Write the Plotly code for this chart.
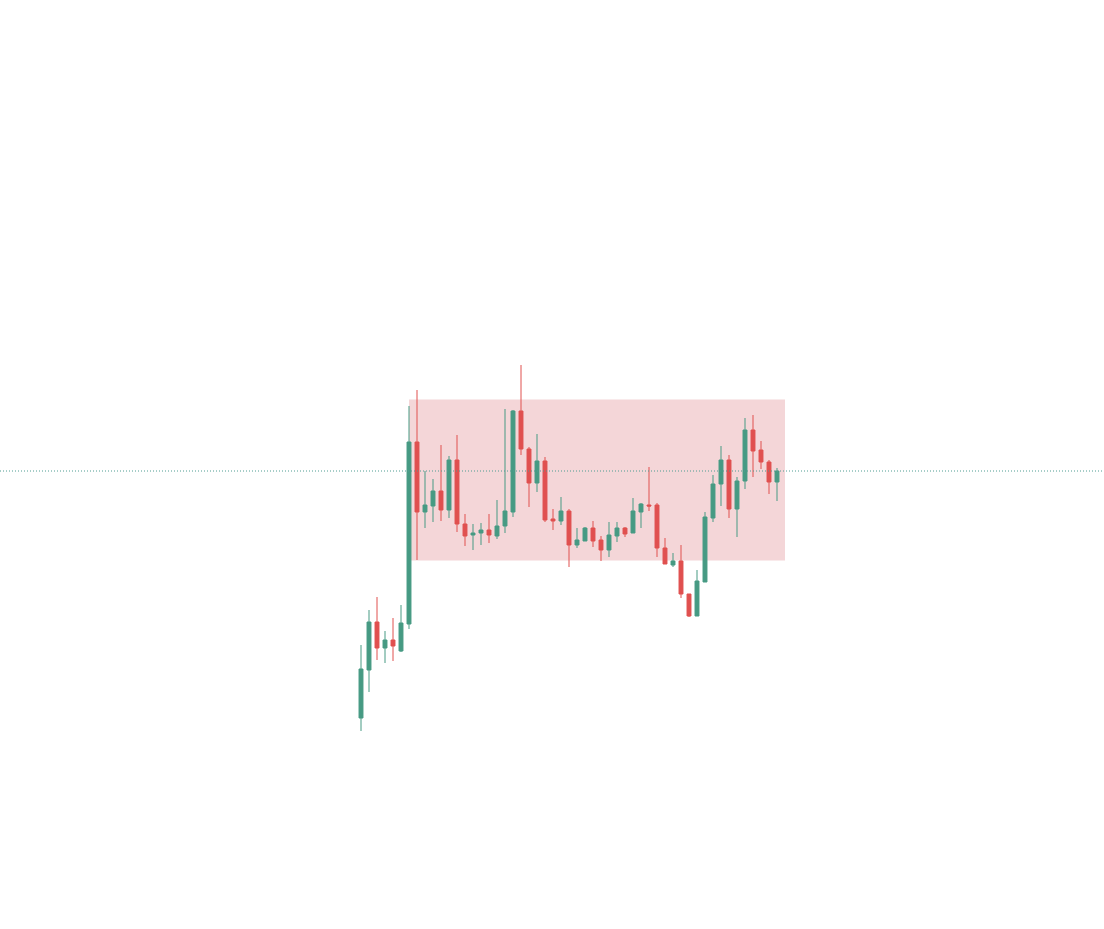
import plotly.graph_objects as go

# Bar index (time order)
bars = list(range(53))

opens = [211, 259, 307, 281, 289, 278, 305, 487, 417, 423, 438, 419, 469, 405, 394, 396, 399, 393, 403,
         417, 518, 480, 446, 468, 410, 408, 418, 384, 388, 401, 389, 379, 393, 401, 396, 417, 424, 424,
         381, 364, 368, 335, 313, 347, 411, 445, 469, 420, 448, 499, 479, 467, 447]
highs = [284, 319, 332, 298, 311, 324, 523, 539, 458, 450, 484, 473, 494, 415, 405, 406, 415, 429, 520,
         519, 564, 482, 495, 472, 420, 432, 420, 401, 402, 408, 393, 407, 407, 402, 431, 426, 462, 426,
         391, 376, 384, 335, 359, 417, 454, 483, 474, 452, 511, 514, 488, 469, 461]
lows = [198, 237, 269, 266, 268, 277, 300, 369, 401, 407, 408, 411, 397, 383, 379, 384, 386, 390, 396,
        412, 474, 422, 437, 407, 399, 404, 362, 381, 388, 382, 368, 372, 387, 392, 396, 401, 418, 372,
        365, 362, 331, 312, 313, 347, 407, 423, 411, 392, 440, 452, 460, 435, 428]
closes = [260, 307, 281, 289, 283, 306, 487, 417, 424, 438, 419, 469, 405, 393, 396, 399, 394, 403, 418,
          518, 480, 446, 468, 409, 408, 418, 384, 389, 401, 388, 379, 394, 401, 395, 418, 425, 423, 381,
          365, 368, 335, 313, 348, 412, 445, 469, 420, 448, 499, 478, 467, 447, 458]

# Highlighted range box (bar index span, price span)
box_x = [6, 53]
box_y = [368.5, 529.5]

GREEN = "#469a83"
RED = "#e0504f"

fig = go.Figure()
fig.add_trace(go.Candlestick(
    x=bars, open=opens, high=highs, low=lows, close=closes,
    increasing=dict(line=dict(color=GREEN, width=1), fillcolor=GREEN),
    decreasing=dict(line=dict(color=RED, width=1), fillcolor=RED),
    whiskerwidth=0, showlegend=False, hoverinfo="x+y",
))

fig.add_shape(type="rect", xref="x", yref="y",
              x0=box_x[0], x1=box_x[1], y0=box_y[0], y1=box_y[1],
              fillcolor="#f4d6d8", line=dict(width=0), layer="below")

fig.add_shape(type="line", xref="paper", yref="y", x0=0, x1=1,
              y0=closes[-1], y1=closes[-1],
              line=dict(color="#4f9c92", width=1, dash="1px,2px"))

fig.update_layout(
    width=1104, height=929,
    margin=dict(l=0, r=0, t=0, b=0),
    paper_bgcolor="white", plot_bgcolor="white",
    xaxis=dict(range=[-45.125, 92.875], visible=False, rangeslider=dict(visible=False),
               showgrid=False, zeroline=False),
    yaxis=dict(range=[0, 929], visible=False, showgrid=False, zeroline=False),
    boxgap=0.3,
)

fig.write_html("out.html", config={"displayModeBar": False},
               post_script="document.body.style.margin='0';")
